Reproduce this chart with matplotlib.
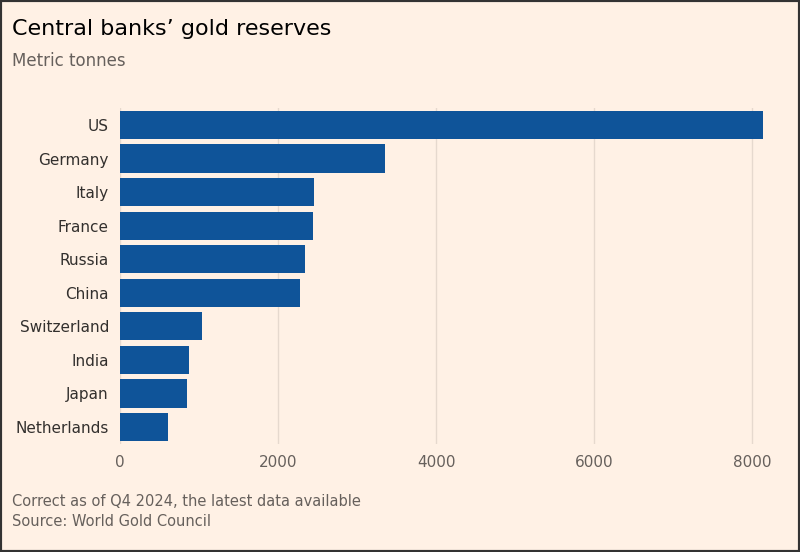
import matplotlib
matplotlib.use("Agg")
import matplotlib.pyplot as plt

countries = ["US", "Germany", "Italy", "France", "Russia", "China",
             "Switzerland", "India", "Japan", "Netherlands"]
tonnes = [8133, 3352, 2452, 2437, 2336, 2280, 1040, 876, 846, 612]
xticks = [0, 2000, 4000, 6000, 8000]

bg = "#FFF1E5"
fig = plt.figure(figsize=(8, 5.52), dpi=100, facecolor=bg)
ax = fig.add_axes([0.15, 0.196, 0.805, 0.608], facecolor=bg)
y = list(range(len(countries)))
ax.barh(y, tonnes, height=0.84, color="#0F5499", zorder=3)
ax.set_ylim(len(countries) - 0.5, -0.5)
ax.set_xlim(0, 8150)
ax.set_yticks(y)
ax.set_yticklabels(countries, fontsize=11, color="#33302E")
ax.set_xticks(xticks)
ax.set_xticklabels([str(t) for t in xticks], fontsize=11, color="#66605C")
ax.tick_params(length=0, pad=8)
ax.grid(axis="x", color="#E6D9CE", linewidth=1, zorder=0)
for s in ax.spines.values():
    s.set_visible(False)

fig.text(0.015, 0.965, "Central banks’ gold reserves", fontsize=16, color="#000000", va="top")
fig.text(0.015, 0.905, "Metric tonnes", fontsize=12, color="#66605C", va="top")
fig.text(0.015, 0.105, "Correct as of Q4 2024, the latest data available", fontsize=10.5, color="#66605C", va="top")
fig.text(0.015, 0.068, "Source: World Gold Council", fontsize=10.5, color="#66605C", va="top")

fig.patches.append(plt.Rectangle((0, 0), 1, 1, transform=fig.transFigure,
                                 fill=False, edgecolor="#333333", linewidth=3))
fig.savefig("out.png", dpi=100, facecolor=bg)
